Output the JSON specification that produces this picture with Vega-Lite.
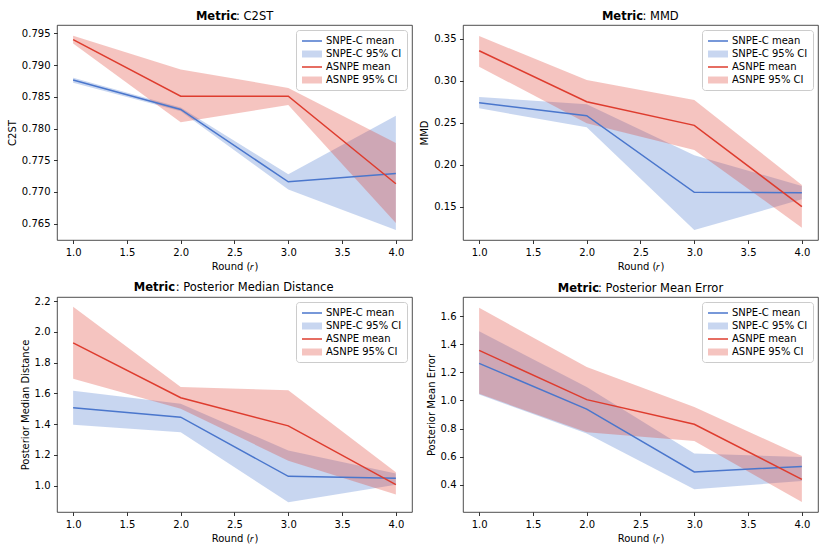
{
  "$schema": "https://vega.github.io/schema/vega-lite/v6.json",
  "padding": {"left": 6, "top": 10, "right": 5, "bottom": 5},
  "datasets": {
    "d": [
      {"metric": "C2ST", "round": 1, "method": "SNPE-C", "ml": "SNPE-C mean", "cl": "SNPE-C 95% CI", "mean": 0.78765, "lo": 0.7872, "hi": 0.7880},
      {"metric": "C2ST", "round": 2, "method": "SNPE-C", "ml": "SNPE-C mean", "cl": "SNPE-C 95% CI", "mean": 0.7830, "lo": 0.7827, "hi": 0.7833},
      {"metric": "C2ST", "round": 3, "method": "SNPE-C", "ml": "SNPE-C mean", "cl": "SNPE-C 95% CI", "mean": 0.7716, "lo": 0.7704, "hi": 0.7728},
      {"metric": "C2ST", "round": 4, "method": "SNPE-C", "ml": "SNPE-C mean", "cl": "SNPE-C 95% CI", "mean": 0.7729, "lo": 0.7640, "hi": 0.7820},
      {"metric": "C2ST", "round": 1, "method": "ASNPE", "ml": "ASNPE mean", "cl": "ASNPE 95% CI", "mean": 0.7940, "lo": 0.7934, "hi": 0.7946},
      {"metric": "C2ST", "round": 2, "method": "ASNPE", "ml": "ASNPE mean", "cl": "ASNPE 95% CI", "mean": 0.7851, "lo": 0.7810, "hi": 0.7893},
      {"metric": "C2ST", "round": 3, "method": "ASNPE", "ml": "ASNPE mean", "cl": "ASNPE 95% CI", "mean": 0.7851, "lo": 0.7837, "hi": 0.7864},
      {"metric": "C2ST", "round": 4, "method": "ASNPE", "ml": "ASNPE mean", "cl": "ASNPE 95% CI", "mean": 0.7713, "lo": 0.7651, "hi": 0.7777},
      {"metric": "MMD", "round": 1, "method": "SNPE-C", "ml": "SNPE-C mean", "cl": "SNPE-C 95% CI", "mean": 0.2738, "lo": 0.2671, "hi": 0.2806},
      {"metric": "MMD", "round": 2, "method": "SNPE-C", "ml": "SNPE-C mean", "cl": "SNPE-C 95% CI", "mean": 0.2583, "lo": 0.2445, "hi": 0.2720},
      {"metric": "MMD", "round": 3, "method": "SNPE-C", "ml": "SNPE-C mean", "cl": "SNPE-C 95% CI", "mean": 0.1671, "lo": 0.1222, "hi": 0.2113},
      {"metric": "MMD", "round": 4, "method": "SNPE-C", "ml": "SNPE-C mean", "cl": "SNPE-C 95% CI", "mean": 0.1667, "lo": 0.1587, "hi": 0.1746},
      {"metric": "MMD", "round": 1, "method": "ASNPE", "ml": "ASNPE mean", "cl": "ASNPE 95% CI", "mean": 0.3357, "lo": 0.3167, "hi": 0.3532},
      {"metric": "MMD", "round": 2, "method": "ASNPE", "ml": "ASNPE mean", "cl": "ASNPE 95% CI", "mean": 0.2750, "lo": 0.2492, "hi": 0.3008},
      {"metric": "MMD", "round": 3, "method": "ASNPE", "ml": "ASNPE mean", "cl": "ASNPE 95% CI", "mean": 0.2468, "lo": 0.2175, "hi": 0.2770},
      {"metric": "MMD", "round": 4, "method": "ASNPE", "ml": "ASNPE mean", "cl": "ASNPE 95% CI", "mean": 0.1500, "lo": 0.1250, "hi": 0.1758},
      {"metric": "PMD", "round": 1, "method": "SNPE-C", "ml": "SNPE-C mean", "cl": "SNPE-C 95% CI", "mean": 1.5065, "lo": 1.396, "hi": 1.617},
      {"metric": "PMD", "round": 2, "method": "SNPE-C", "ml": "SNPE-C mean", "cl": "SNPE-C 95% CI", "mean": 1.4457, "lo": 1.348, "hi": 1.533},
      {"metric": "PMD", "round": 3, "method": "SNPE-C", "ml": "SNPE-C mean", "cl": "SNPE-C 95% CI", "mean": 1.061, "lo": 0.893, "hi": 1.229},
      {"metric": "PMD", "round": 4, "method": "SNPE-C", "ml": "SNPE-C mean", "cl": "SNPE-C 95% CI", "mean": 1.048, "lo": 1.007, "hi": 1.080},
      {"metric": "PMD", "round": 1, "method": "ASNPE", "ml": "ASNPE mean", "cl": "ASNPE 95% CI", "mean": 1.928, "lo": 1.696, "hi": 2.163},
      {"metric": "PMD", "round": 2, "method": "ASNPE", "ml": "ASNPE mean", "cl": "ASNPE 95% CI", "mean": 1.572, "lo": 1.500, "hi": 1.641},
      {"metric": "PMD", "round": 3, "method": "ASNPE", "ml": "ASNPE mean", "cl": "ASNPE 95% CI", "mean": 1.389, "lo": 1.163, "hi": 1.620},
      {"metric": "PMD", "round": 4, "method": "ASNPE", "ml": "ASNPE mean", "cl": "ASNPE 95% CI", "mean": 1.007, "lo": 0.943, "hi": 1.087},
      {"metric": "PME", "round": 1, "method": "SNPE-C", "ml": "SNPE-C mean", "cl": "SNPE-C 95% CI", "mean": 1.264, "lo": 1.043, "hi": 1.491},
      {"metric": "PME", "round": 2, "method": "SNPE-C", "ml": "SNPE-C mean", "cl": "SNPE-C 95% CI", "mean": 0.939, "lo": 0.765, "hi": 1.095},
      {"metric": "PME", "round": 3, "method": "SNPE-C", "ml": "SNPE-C mean", "cl": "SNPE-C 95% CI", "mean": 0.492, "lo": 0.369, "hi": 0.623},
      {"metric": "PME", "round": 4, "method": "SNPE-C", "ml": "SNPE-C mean", "cl": "SNPE-C 95% CI", "mean": 0.532, "lo": 0.428, "hi": 0.599},
      {"metric": "PME", "round": 1, "method": "ASNPE", "ml": "ASNPE mean", "cl": "ASNPE 95% CI", "mean": 1.356, "lo": 1.047, "hi": 1.659},
      {"metric": "PME", "round": 2, "method": "ASNPE", "ml": "ASNPE mean", "cl": "ASNPE 95% CI", "mean": 1.006, "lo": 0.775, "hi": 1.237},
      {"metric": "PME", "round": 3, "method": "ASNPE", "ml": "ASNPE mean", "cl": "ASNPE 95% CI", "mean": 0.831, "lo": 0.712, "hi": 0.954},
      {"metric": "PME", "round": 4, "method": "ASNPE", "ml": "ASNPE mean", "cl": "ASNPE 95% CI", "mean": 0.440, "lo": 0.279, "hi": 0.606}
    ]
  },
  "data": {"name": "d"},
  "columns": 2,
  "bounds": "flush",
  "spacing": {"row": 57, "column": 51},
  "resolve": {"scale": {"color": "independent", "y": "independent", "x": "independent"}, "legend": {"color": "independent"}},
  "concat": [
    {
      "width": 355, "height": 215,
      "title": {"text": "Metric\u00a0\u00a0\u00a0\u00a0\u00a0\u00a0\u00a0\u00a0\u00a0\u200b", "subtitle": "\u200b\u00a0\u00a0\u00a0\u00a0\u00a0\u00a0\u00a0\u00a0\u00a0\u00a0\u00a0: C2ST"},
      "transform": [{"filter": "datum.metric === 'C2ST'"}],
      "layer": [
        {"mark": {"type": "area", "opacity": 0.3},
         "encoding": {
           "x": {"field": "round", "type": "quantitative", "title": "Round (𝑟)", "scale": {"domain": [0.85, 4.15], "nice": false, "zero": false}, "axis": {"values": [1, 1.5, 2, 2.5, 3, 3.5, 4], "format": ".1f"}},
           "y": {"field": "lo", "type": "quantitative", "title": "C2ST", "scale": {"domain": [0.76243, 0.79631], "nice": false, "zero": false}, "axis": {"values": [0.765, 0.77, 0.775, 0.78, 0.785, 0.79, 0.795], "format": ".3f", "tickCount": 20}},
           "y2": {"field": "hi"},
           "color": {"field": "cl", "type": "nominal", "scale": {"domain": ["SNPE-C mean", "SNPE-C 95% CI", "ASNPE mean", "ASNPE 95% CI"], "range": ["#4a76cc", "#4a76cc", "#de3c2e", "#de3c2e"]},
             "legend": {"encode": {"symbols": {"update": {
               "shape": {"signal": "indexof(datum.value,'mean')>=0 ? 'M-1,0H3' : 'M-1,-0.7H3V0.7H-1Z'"},
               "fill": {"signal": "datum.value=='SNPE-C 95% CI' ? '#4a76cc' : datum.value=='ASNPE 95% CI' ? '#de3c2e' : 'transparent'"},
               "fillOpacity": {"value": 0.3},
               "stroke": {"signal": "datum.value=='SNPE-C mean' ? '#4a76cc' : datum.value=='ASNPE mean' ? '#de3c2e' : 'transparent'"},
               "strokeOpacity": {"signal": "indexof(datum.value,'mean')>=0 ? 1 : 0"},
               "strokeWidth": {"value": 1.5},
               "opacity": {"value": 1}}}}}}
         }},
        {"mark": {"type": "line", "strokeWidth": 1.5},
         "encoding": {
           "x": {"field": "round", "type": "quantitative", "title": "Round (𝑟)"},
           "y": {"field": "mean", "type": "quantitative", "title": "C2ST"},
           "color": {"field": "ml", "type": "nominal",
             "legend": {"encode": {"symbols": {"update": {
               "shape": {"signal": "indexof(datum.value,'mean')>=0 ? 'M-1,0H3' : 'M-1,-0.7H3V0.7H-1Z'"},
               "fill": {"signal": "datum.value=='SNPE-C 95% CI' ? '#4a76cc' : datum.value=='ASNPE 95% CI' ? '#de3c2e' : 'transparent'"},
               "fillOpacity": {"value": 0.3},
               "stroke": {"signal": "datum.value=='SNPE-C mean' ? '#4a76cc' : datum.value=='ASNPE mean' ? '#de3c2e' : 'transparent'"},
               "strokeOpacity": {"signal": "indexof(datum.value,'mean')>=0 ? 1 : 0"},
               "strokeWidth": {"value": 1.5},
               "opacity": {"value": 1}}}}}}
         }}
      ]
    },
    {
      "width": 355, "height": 215,
      "title": {"text": "Metric\u00a0\u00a0\u00a0\u00a0\u00a0\u00a0\u00a0\u00a0\u00a0\u200b", "subtitle": "\u200b\u00a0\u00a0\u00a0\u00a0\u00a0\u00a0\u00a0\u00a0\u00a0\u00a0\u00a0: MMD"},
      "transform": [{"filter": "datum.metric === 'MMD'"}],
      "layer": [
        {"mark": {"type": "area", "opacity": 0.3},
         "encoding": {
           "x": {"field": "round", "type": "quantitative", "title": "Round (𝑟)", "scale": {"domain": [0.85, 4.15], "nice": false, "zero": false}, "axis": {"values": [1, 1.5, 2, 2.5, 3, 3.5, 4], "format": ".1f"}},
           "y": {"field": "lo", "type": "quantitative", "title": "MMD", "scale": {"domain": [0.1103, 0.3663], "nice": false, "zero": false}, "axis": {"values": [0.15, 0.2, 0.25, 0.3, 0.35], "format": ".2f", "tickCount": 20}},
           "y2": {"field": "hi"},
           "color": {"field": "cl", "type": "nominal", "scale": {"domain": ["SNPE-C mean", "SNPE-C 95% CI", "ASNPE mean", "ASNPE 95% CI"], "range": ["#4a76cc", "#4a76cc", "#de3c2e", "#de3c2e"]},
             "legend": {"encode": {"symbols": {"update": {
               "shape": {"signal": "indexof(datum.value,'mean')>=0 ? 'M-1,0H3' : 'M-1,-0.7H3V0.7H-1Z'"},
               "fill": {"signal": "datum.value=='SNPE-C 95% CI' ? '#4a76cc' : datum.value=='ASNPE 95% CI' ? '#de3c2e' : 'transparent'"},
               "fillOpacity": {"value": 0.3},
               "stroke": {"signal": "datum.value=='SNPE-C mean' ? '#4a76cc' : datum.value=='ASNPE mean' ? '#de3c2e' : 'transparent'"},
               "strokeOpacity": {"signal": "indexof(datum.value,'mean')>=0 ? 1 : 0"},
               "strokeWidth": {"value": 1.5},
               "opacity": {"value": 1}}}}}}
         }},
        {"mark": {"type": "line", "strokeWidth": 1.5},
         "encoding": {
           "x": {"field": "round", "type": "quantitative", "title": "Round (𝑟)"},
           "y": {"field": "mean", "type": "quantitative", "title": "MMD"},
           "color": {"field": "ml", "type": "nominal",
             "legend": {"encode": {"symbols": {"update": {
               "shape": {"signal": "indexof(datum.value,'mean')>=0 ? 'M-1,0H3' : 'M-1,-0.7H3V0.7H-1Z'"},
               "fill": {"signal": "datum.value=='SNPE-C 95% CI' ? '#4a76cc' : datum.value=='ASNPE 95% CI' ? '#de3c2e' : 'transparent'"},
               "fillOpacity": {"value": 0.3},
               "stroke": {"signal": "datum.value=='SNPE-C mean' ? '#4a76cc' : datum.value=='ASNPE mean' ? '#de3c2e' : 'transparent'"},
               "strokeOpacity": {"signal": "indexof(datum.value,'mean')>=0 ? 1 : 0"},
               "strokeWidth": {"value": 1.5},
               "opacity": {"value": 1}}}}}}
         }}
      ]
    },
    {
      "width": 355, "height": 215,
      "title": {"text": "Metric\u00a0\u00a0\u00a0\u00a0\u00a0\u00a0\u00a0\u00a0\u00a0\u00a0\u00a0\u00a0\u00a0\u00a0\u00a0\u00a0\u00a0\u00a0\u00a0\u00a0\u00a0\u00a0\u00a0\u00a0\u00a0\u00a0\u00a0\u00a0\u00a0\u00a0\u00a0\u00a0\u00a0\u00a0\u00a0\u00a0\u00a0\u00a0\u00a0\u00a0\u200b", "subtitle": "\u200b\u00a0\u00a0\u00a0\u00a0\u00a0\u00a0\u00a0\u00a0\u00a0\u00a0\u00a0: Posterior Median Distance"},
      "transform": [{"filter": "datum.metric === 'PMD'"}],
      "layer": [
        {"mark": {"type": "area", "opacity": 0.3},
         "encoding": {
           "x": {"field": "round", "type": "quantitative", "title": "Round (𝑟)", "scale": {"domain": [0.85, 4.15], "nice": false, "zero": false}, "axis": {"values": [1, 1.5, 2, 2.5, 3, 3.5, 4], "format": ".1f"}},
           "y": {"field": "lo", "type": "quantitative", "title": "Posterior Median Distance", "scale": {"domain": [0.8295, 2.2265], "nice": false, "zero": false}, "axis": {"values": [1.0, 1.2, 1.4, 1.6, 1.8, 2.0, 2.2], "format": ".1f", "tickCount": 20}},
           "y2": {"field": "hi"},
           "color": {"field": "cl", "type": "nominal", "scale": {"domain": ["SNPE-C mean", "SNPE-C 95% CI", "ASNPE mean", "ASNPE 95% CI"], "range": ["#4a76cc", "#4a76cc", "#de3c2e", "#de3c2e"]},
             "legend": {"encode": {"symbols": {"update": {
               "shape": {"signal": "indexof(datum.value,'mean')>=0 ? 'M-1,0H3' : 'M-1,-0.7H3V0.7H-1Z'"},
               "fill": {"signal": "datum.value=='SNPE-C 95% CI' ? '#4a76cc' : datum.value=='ASNPE 95% CI' ? '#de3c2e' : 'transparent'"},
               "fillOpacity": {"value": 0.3},
               "stroke": {"signal": "datum.value=='SNPE-C mean' ? '#4a76cc' : datum.value=='ASNPE mean' ? '#de3c2e' : 'transparent'"},
               "strokeOpacity": {"signal": "indexof(datum.value,'mean')>=0 ? 1 : 0"},
               "strokeWidth": {"value": 1.5},
               "opacity": {"value": 1}}}}}}
         }},
        {"mark": {"type": "line", "strokeWidth": 1.5},
         "encoding": {
           "x": {"field": "round", "type": "quantitative", "title": "Round (𝑟)"},
           "y": {"field": "mean", "type": "quantitative", "title": "Posterior Median Distance"},
           "color": {"field": "ml", "type": "nominal",
             "legend": {"encode": {"symbols": {"update": {
               "shape": {"signal": "indexof(datum.value,'mean')>=0 ? 'M-1,0H3' : 'M-1,-0.7H3V0.7H-1Z'"},
               "fill": {"signal": "datum.value=='SNPE-C 95% CI' ? '#4a76cc' : datum.value=='ASNPE 95% CI' ? '#de3c2e' : 'transparent'"},
               "fillOpacity": {"value": 0.3},
               "stroke": {"signal": "datum.value=='SNPE-C mean' ? '#4a76cc' : datum.value=='ASNPE mean' ? '#de3c2e' : 'transparent'"},
               "strokeOpacity": {"signal": "indexof(datum.value,'mean')>=0 ? 1 : 0"},
               "strokeWidth": {"value": 1.5},
               "opacity": {"value": 1}}}}}}
         }}
      ]
    },
    {
      "width": 355, "height": 215,
      "title": {"text": "Metric\u00a0\u00a0\u00a0\u00a0\u00a0\u00a0\u00a0\u00a0\u00a0\u00a0\u00a0\u00a0\u00a0\u00a0\u00a0\u00a0\u00a0\u00a0\u00a0\u00a0\u00a0\u00a0\u00a0\u00a0\u00a0\u00a0\u00a0\u00a0\u00a0\u00a0\u00a0\u200b", "subtitle": "\u200b\u00a0\u00a0\u00a0\u00a0\u00a0\u00a0\u00a0\u00a0\u00a0\u00a0\u00a0: Posterior Mean Error"},
      "transform": [{"filter": "datum.metric === 'PME'"}],
      "layer": [
        {"mark": {"type": "area", "opacity": 0.3},
         "encoding": {
           "x": {"field": "round", "type": "quantitative", "title": "Round (𝑟)", "scale": {"domain": [0.85, 4.15], "nice": false, "zero": false}, "axis": {"values": [1, 1.5, 2, 2.5, 3, 3.5, 4], "format": ".1f"}},
           "y": {"field": "lo", "type": "quantitative", "title": "Posterior Mean Error", "scale": {"domain": [0.208, 1.735], "nice": false, "zero": false}, "axis": {"values": [0.4, 0.6, 0.8, 1.0, 1.2, 1.4, 1.6], "format": ".1f", "tickCount": 20}},
           "y2": {"field": "hi"},
           "color": {"field": "cl", "type": "nominal", "scale": {"domain": ["SNPE-C mean", "SNPE-C 95% CI", "ASNPE mean", "ASNPE 95% CI"], "range": ["#4a76cc", "#4a76cc", "#de3c2e", "#de3c2e"]},
             "legend": {"encode": {"symbols": {"update": {
               "shape": {"signal": "indexof(datum.value,'mean')>=0 ? 'M-1,0H3' : 'M-1,-0.7H3V0.7H-1Z'"},
               "fill": {"signal": "datum.value=='SNPE-C 95% CI' ? '#4a76cc' : datum.value=='ASNPE 95% CI' ? '#de3c2e' : 'transparent'"},
               "fillOpacity": {"value": 0.3},
               "stroke": {"signal": "datum.value=='SNPE-C mean' ? '#4a76cc' : datum.value=='ASNPE mean' ? '#de3c2e' : 'transparent'"},
               "strokeOpacity": {"signal": "indexof(datum.value,'mean')>=0 ? 1 : 0"},
               "strokeWidth": {"value": 1.5},
               "opacity": {"value": 1}}}}}}
         }},
        {"mark": {"type": "line", "strokeWidth": 1.5},
         "encoding": {
           "x": {"field": "round", "type": "quantitative", "title": "Round (𝑟)"},
           "y": {"field": "mean", "type": "quantitative", "title": "Posterior Mean Error"},
           "color": {"field": "ml", "type": "nominal",
             "legend": {"encode": {"symbols": {"update": {
               "shape": {"signal": "indexof(datum.value,'mean')>=0 ? 'M-1,0H3' : 'M-1,-0.7H3V0.7H-1Z'"},
               "fill": {"signal": "datum.value=='SNPE-C 95% CI' ? '#4a76cc' : datum.value=='ASNPE 95% CI' ? '#de3c2e' : 'transparent'"},
               "fillOpacity": {"value": 0.3},
               "stroke": {"signal": "datum.value=='SNPE-C mean' ? '#4a76cc' : datum.value=='ASNPE mean' ? '#de3c2e' : 'transparent'"},
               "strokeOpacity": {"signal": "indexof(datum.value,'mean')>=0 ? 1 : 0"},
               "strokeWidth": {"value": 1.5},
               "opacity": {"value": 1}}}}}}
         }}
      ]
    }
  ],
  "config": {
    "font": "DejaVu Sans",
    "view": {"stroke": "#222", "strokeWidth": 0.8},
    "axis": {"domain": false, "grid": false, "tickColor": "#000", "tickSize": 3.5, "tickWidth": 0.8, "labelFont": "DejaVu Sans", "labelFontSize": 10, "labelColor": "#000", "labelPadding": 3.5, "labelFlush": false, "labelOverlap": false, "titleFont": "DejaVu Sans", "titleFontSize": 10, "titleFontWeight": "normal", "titleColor": "#000", "titlePadding": 4},
    "legend": {"orient": "top-right", "offset": 5, "title": null, "labelFont": "DejaVu Sans", "labelFontSize": 10, "labelColor": "#000", "fillColor": "rgba(255,255,255,0.8)", "strokeColor": "#cccccc", "cornerRadius": 3, "padding": 5, "symbolSize": 100, "labelOffset": 13, "rowPadding": 2},
    "title": {"font": "DejaVu Sans", "fontSize": 11.5, "fontWeight": "bold", "color": "#000", "subtitleFont": "DejaVu Sans", "subtitleFontSize": 11.5, "subtitleFontWeight": "normal", "subtitleColor": "#000", "subtitlePadding": -11.5, "anchor": "middle", "frame": "group", "offset": 3}
  }
}
